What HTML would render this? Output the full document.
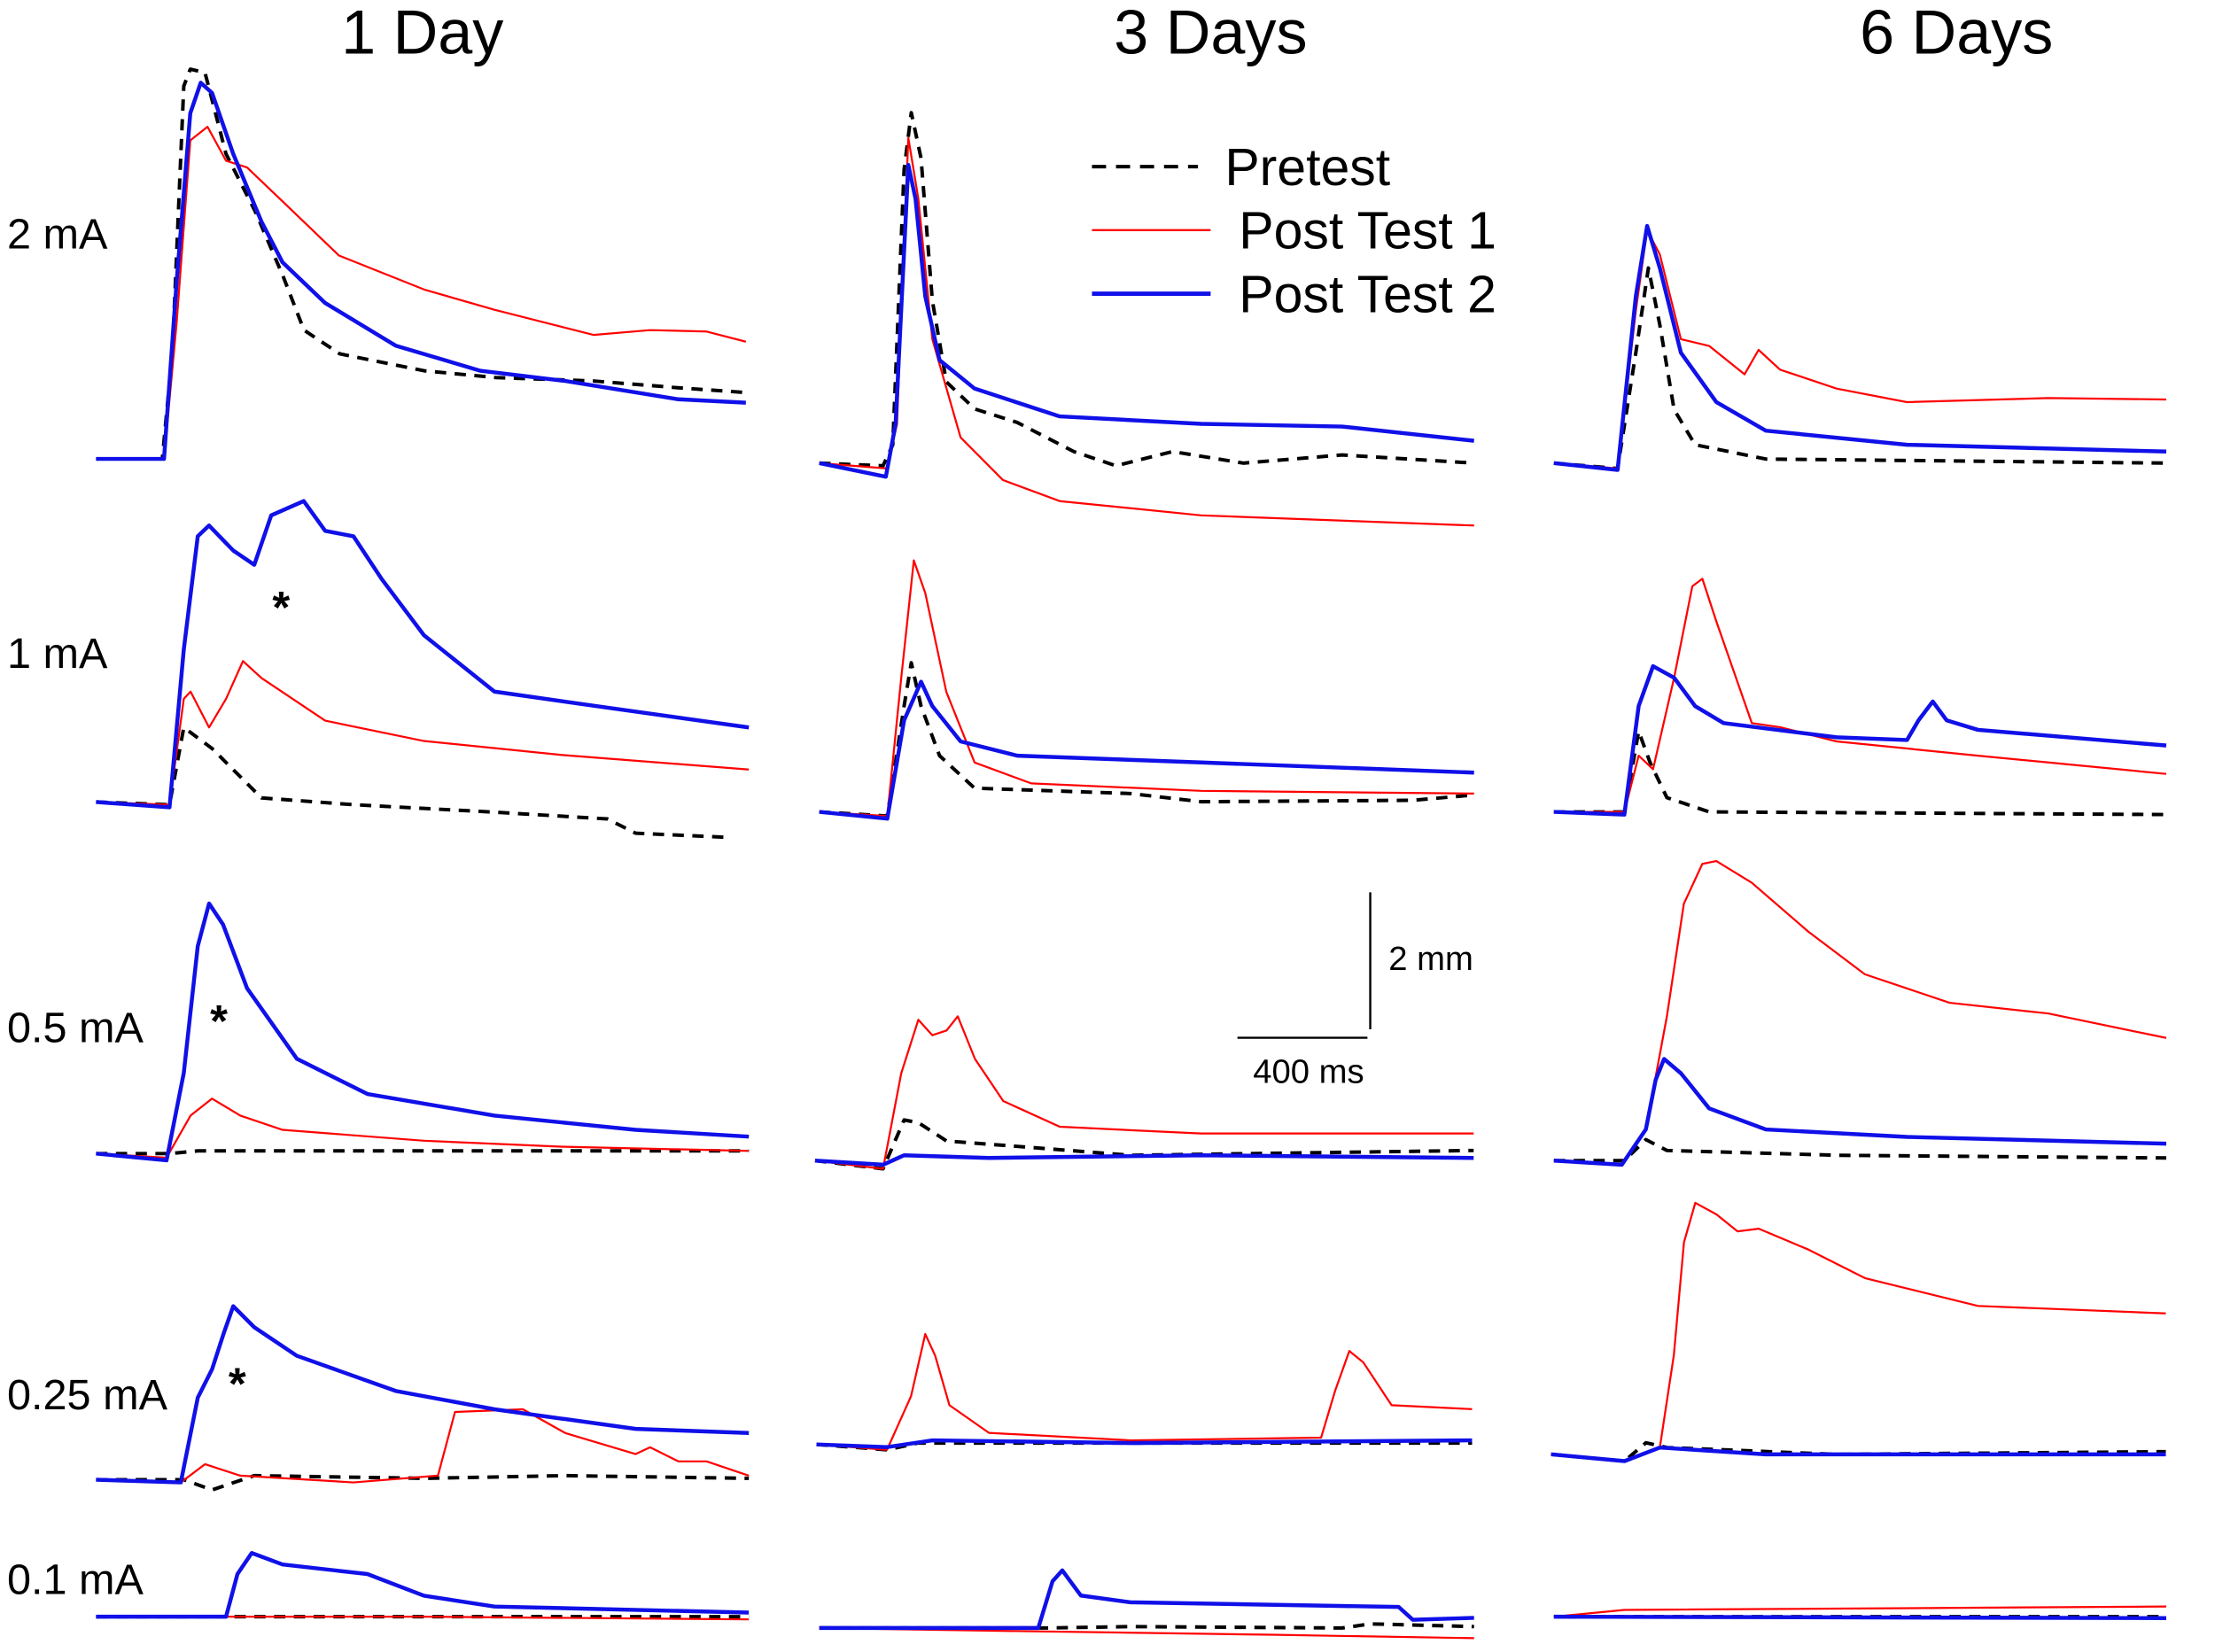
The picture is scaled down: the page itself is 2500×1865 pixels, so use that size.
<!DOCTYPE html>
<html><head><meta charset="utf-8"><style>
html,body{margin:0;padding:0;background:#fff;}
svg{display:block;}
text{font-family:"Liberation Sans",Arial,sans-serif;fill:#000;}
</style></head><body>
<svg id="fig" width="2500" height="1865" viewBox="0 0 1568 1170" preserveAspectRatio="none" xmlns="http://www.w3.org/2000/svg">
<rect width="1568" height="1170" fill="#fff"/>
<text x="299" y="38" font-size="44" text-anchor="middle">1 Day</text>
<text x="857" y="38" font-size="44" text-anchor="middle">3 Days</text>
<text x="1385" y="38" font-size="44" text-anchor="middle">6 Days</text>
<text x="5" y="176" font-size="30.5">2 mA</text>
<text x="5" y="473" font-size="30.5">1 mA</text>
<text x="5" y="738" font-size="30.5">0.5 mA</text>
<text x="5" y="998" font-size="30.5">0.25 mA</text>
<text x="5" y="1129" font-size="30.5">0.1 mA</text>
<g>
<line x1="773" y1="118" x2="848" y2="118" stroke="#000" stroke-width="2.5" stroke-dasharray="10,7"/>
<text x="867" y="131" font-size="37">Pretest</text>
<line x1="773" y1="163" x2="857" y2="163" stroke="#f00" stroke-width="1.5"/>
<text x="877" y="176" font-size="37">Post Test 1</text>
<line x1="773" y1="208" x2="857" y2="208" stroke="#1010e8" stroke-width="3"/>
<text x="877" y="221" font-size="37">Post Test 2</text>
</g>
<g>
<line x1="970" y1="632" x2="970" y2="729" stroke="#000" stroke-width="1.5"/>
<line x1="876" y1="735" x2="968" y2="735" stroke="#000" stroke-width="1.5"/>
<text x="983" y="687" font-size="24">2 mm</text>
<text x="887" y="767" font-size="24">400 ms</text>
</g>
<text x="199" y="441" font-size="32" font-weight="bold" text-anchor="middle">*</text>
<text x="155" y="734" font-size="32" font-weight="bold" text-anchor="middle">*</text>
<text x="168" y="991" font-size="32" font-weight="bold" text-anchor="middle">*</text>
<g id="traces"></g>
</svg>
<script>
// data: flat [time ms, amplitude mm] pairs
const r1c1_pre=[0,0,204,0,235,1.6,270,5.5,290,5.75,335,5.7,400,4.5,490,3.65,575,2.7,640,1.9,750,1.55,1010,1.3,1230,1.2,1530,1.15,1790,1.05,2000,0.98];
const r1c1_p1=[0,0,209,0,248,2,290,4.7,343,4.9,400,4.4,465,4.3,574,3.8,748,3.0,1009,2.5,1226,2.2,1531,1.83,1705,1.9,1879,1.88,2000,1.73];
const r1c1_p2=[0,0,209,0,248,2.6,290,5.1,322,5.55,357,5.4,422,4.5,509,3.5,574,2.9,705,2.3,922,1.67,1183,1.3,1444,1.15,1792,0.88,2000,0.83];
const r1c2_pre=[0,0,196,-0.04,226,0.27,261,4.33,283,5.17,313,4.5,348,2.4,391,1.2,478,0.8,609,0.6,783,0.17,913,-0.04,1087,0.17,1305,0,1609,0.12,2015,0];
const r1c2_p1=[0,0,209,-0.08,239,0.58,274,4.8,305,3.9,348,1.83,435,0.38,565,-0.25,740,-0.56,1175,-0.77,2015,-0.92];
const r1c2_p2=[0,0,205,-0.2,235,0.58,274,4.4,296,3.9,326,2.46,370,1.52,478,1.1,740,0.69,1175,0.58,1609,0.54,2015,0.33];
const r1c3_pre=[0,0,196,-0.08,252,1.63,291,2.88,326,2.04,370,0.79,435,0.27,652,0.06,1885,0];
const r1c3_p1=[0,0,196,-0.08,252,2.25,287,3.44,326,3.08,391,1.83,478,1.73,587,1.31,630,1.67,696,1.38,870,1.1,1087,0.9,1522,0.96,1885,0.94];
const r1c3_p2=[0,0,196,-0.1,252,2.46,287,3.5,326,2.88,391,1.63,500,0.9,652,0.48,1087,0.27,1885,0.17];
const r2c1_pre=[0,0,226,-0.04,270,1.1,357,0.79,509,0.06,792,-0.04,1226,-0.15,1574,-0.25,1661,-0.46,1940,-0.52];
const r2c1_p1=[0,0,226,-0.04,270,1.52,291,1.63,348,1.1,400,1.52,452,2.08,509,1.83,705,1.2,1009,0.9,1444,0.69,2009,0.48];
const r2c1_p2=[0,0,226,-0.08,270,2.25,313,3.92,348,4.08,422,3.71,487,3.5,539,4.23,639,4.44,705,4.0,792,3.92,879,3.29,1009,2.46,1226,1.63,1531,1.42,2009,1.1];
const r2c2_pre=[0,0,209,-0.06,261,1.56,283,2.2,313,1.56,370,0.83,478,0.35,957,0.27,1175,0.15,1827,0.17,2015,0.25];
const r2c2_p1=[0,0,209,-0.06,252,1.98,291,3.71,326,3.23,391,1.77,478,0.73,652,0.42,1175,0.31,2015,0.27];
const r2c2_p2=[0,0,209,-0.1,261,1.35,313,1.92,348,1.56,435,1.04,609,0.83,1175,0.73,2015,0.58];
const r2c3_pre=[0,0,217,0,261,1.19,296,0.73,348,0.21,478,0,1885,-0.04];
const r2c3_p1=[0,0,217,0,261,0.83,305,0.63,370,1.98,426,3.33,457,3.44,500,2.81,609,1.31,696,1.25,870,1.04,1305,0.83,1885,0.56];
const r2c3_p2=[0,0,217,-0.04,261,1.56,305,2.15,370,1.98,435,1.56,522,1.31,870,1.1,1087,1.06,1122,1.35,1166,1.63,1209,1.35,1305,1.21,1885,0.98];
const r3c1_pre=[0,0,226,0,313,0.04,574,0.04,1009,0.04,2009,0.04];
const r3c1_p1=[0,0,217,-0.06,291,0.56,357,0.81,444,0.56,574,0.35,1009,0.19,1444,0.1,2009,0.04];
const r3c1_p2=[0,0,217,-0.1,270,1.19,313,3.06,348,3.69,391,3.38,465,2.44,618,1.4,835,0.88,1226,0.56,1661,0.35,2009,0.25];
const r3c2_pre=[0,0,209,-0.12,274,0.6,318,0.56,405,0.29,622,0.21,970,0.08,2027,0.15];
const r3c2_p1=[0,0,209,-0.12,265,1.29,318,2.08,361,1.85,405,1.92,439,2.13,492,1.5,579,0.88,753,0.5,1187,0.4,2027,0.4];
const r3c2_p2=[0,0,209,-0.06,274,0.08,535,0.04,1187,0.08,2027,0.04];
const r3c3_pre=[0,0,217,0,283,0.31,348,0.15,870,0.08,1885,0.04];
const r3c3_p1=[0,0,209,-0.06,283,0.46,348,2.13,400,3.79,457,4.38,500,4.42,609,4.1,783,3.38,957,2.75,1218,2.33,1522,2.17,1885,1.81];
const r3c3_p2=[0,0,209,-0.06,283,0.46,313,1.19,339,1.5,391,1.29,478,0.77,652,0.46,1087,0.35,1885,0.25];
const r4c1_pre=[0,0,270,0,357,-0.15,487,0.06,1009,0.02,1444,0.06,2009,0.02];
const r4c1_p1=[0,0,261,-0.04,335,0.23,444,0.06,792,-0.04,1052,0.06,1105,1.0,1314,1.04,1444,0.69,1661,0.38,1705,0.48,1792,0.27,1879,0.27,2009,0.06];
const r4c1_p2=[0,0,261,-0.04,313,1.21,357,1.63,392,2.15,422,2.56,487,2.25,618,1.83,922,1.31,1226,1.04,1661,0.75,2009,0.69];
const r4c2_pre=[0,0,217,-0.08,313,0.02,2018,0.02];
const r4c2_p1=[0,0,217,-0.08,291,0.71,335,1.63,365,1.31,409,0.58,531,0.17,966,0.06,1553,0.1,1596,0.79,1640,1.38,1683,1.21,1770,0.58,2018,0.52];
const r4c2_p2=[0,0,217,-0.04,357,0.06,966,0.02,2018,0.06];
const r4c3_pre=[0,0,226,-0.1,292,0.17,357,0.1,879,0,1892,0.04];
const r4c3_p1=[0,0,226,-0.1,335,0.1,378,1.46,409,3.13,444,3.71,509,3.54,574,3.29,639,3.33,792,3.02,966,2.6,1314,2.19,1892,2.08];
const r4c3_p2=[0,0,226,-0.1,335,0.1,661,0,1892,0];
const r5c1_pre=[0,0,2009,0];
const r5c1_p1=[0,0,1009,0,2009,-0.04];
const r5c1_p2=[0,0,400,0,435,0.63,479,0.94,574,0.77,835,0.63,1009,0.31,1226,0.15,2009,0.06];
const r5c2_pre=[0,0,696,0,957,0.02,1609,0,1696,0.06,2015,0.02];
const r5c2_p1=[0,0,522,-0.04,1392,-0.1,2015,-0.15];
const r5c2_p2=[0,0,674,0,718,0.69,748,0.85,805,0.48,957,0.38,1783,0.31,1827,0.12,2015,0.15];
const r5c3_pre=[0,0,1885,0];
const r5c3_p1=[0,0,217,0.1,1885,0.15];
const r5c3_p2=[0,0,1885,-0.02];

const PX_PER_MS=0.23, PX_PER_MM=48;
const panels=[
 {id:'2ma-1day',x0:68,b:325,d:[r1c1_pre,r1c1_p1,r1c1_p2]},
 {id:'2ma-3days',x0:580,b:328,d:[r1c2_pre,r1c2_p1,r1c2_p2]},
 {id:'2ma-6days',x0:1100,b:328,d:[r1c3_pre,r1c3_p1,r1c3_p2]},
 {id:'1ma-1day',x0:68,b:568,d:[r2c1_pre,r2c1_p1,r2c1_p2]},
 {id:'1ma-3days',x0:580,b:575,d:[r2c2_pre,r2c2_p1,r2c2_p2]},
 {id:'1ma-6days',x0:1100,b:575,d:[r2c3_pre,r2c3_p1,r2c3_p2]},
 {id:'0-5ma-1day',x0:68,b:817,d:[r3c1_pre,r3c1_p1,r3c1_p2]},
 {id:'0-5ma-3days',x0:577,b:822,d:[r3c2_pre,r3c2_p1,r3c2_p2]},
 {id:'0-5ma-6days',x0:1100,b:822,d:[r3c3_pre,r3c3_p1,r3c3_p2]},
 {id:'0-25ma-1day',x0:68,b:1048,d:[r4c1_pre,r4c1_p1,r4c1_p2]},
 {id:'0-25ma-3days',x0:578,b:1023,d:[r4c2_pre,r4c2_p1,r4c2_p2]},
 {id:'0-25ma-6days',x0:1098,b:1030,d:[r4c3_pre,r4c3_p1,r4c3_p2]},
 {id:'0-1ma-1day',x0:68,b:1145,d:[r5c1_pre,r5c1_p1,r5c1_p2]},
 {id:'0-1ma-3days',x0:580,b:1153,d:[r5c2_pre,r5c2_p1,r5c2_p2]},
 {id:'0-1ma-6days',x0:1100,b:1145,d:[r5c3_pre,r5c3_p1,r5c3_p2]}
];
const styles=[
 {n:'pretest',c:'#000',w:2.5,dash:'8,6'},
 {n:'post-test-1',c:'#f00',w:1.4,dash:null},
 {n:'post-test-2',c:'#1010e8',w:2.8,dash:null}
];
const NS='http://www.w3.org/2000/svg';
const root=document.getElementById('traces');
panels.forEach(p=>{
  const g=document.createElementNS(NS,'g');
  
  
  [0,1,2].forEach(i=>{
    const arr=p.d[i], s=styles[i];
    const pts=[];
    for(let k=0;k<arr.length;k+=2){
      pts.push((p.x0+arr[k]*PX_PER_MS).toFixed(1)+','+(p.b-arr[k+1]*PX_PER_MM).toFixed(1));
    }
    const pl=document.createElementNS(NS,'polyline');
    pl.setAttribute('points',pts.join(' '));
    pl.setAttribute('fill','none');
    pl.setAttribute('stroke',s.c);
    pl.setAttribute('stroke-width',s.w);
    pl.setAttribute('stroke-linejoin','round');
    if(s.dash) pl.setAttribute('stroke-dasharray',s.dash);
    
    
    g.appendChild(pl);
  });
  root.appendChild(g);
});
</script>
</body></html>
